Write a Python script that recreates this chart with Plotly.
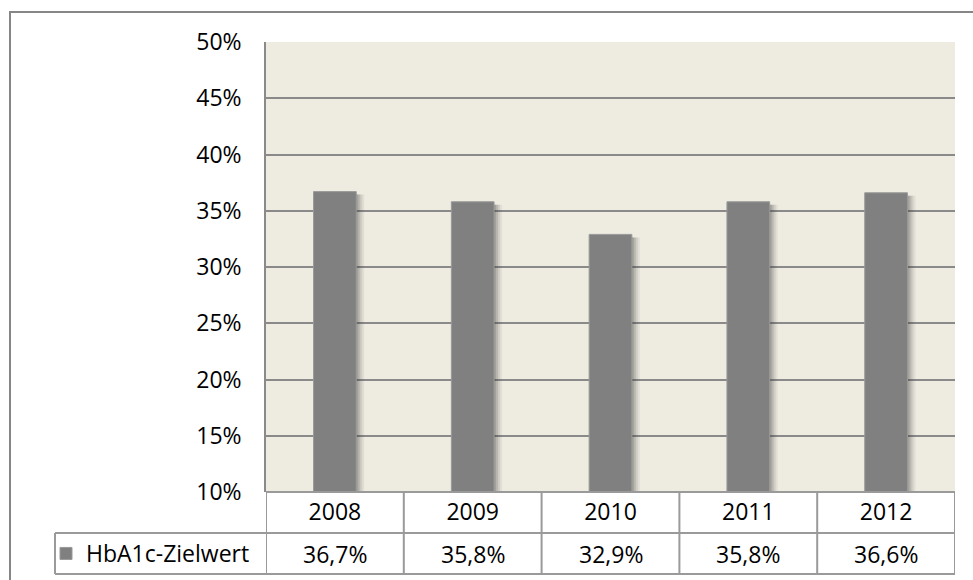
import plotly.graph_objects as go

years = ["2008", "2009", "2010", "2011", "2012"]
values = [36.7, 35.8, 32.9, 35.8, 36.6]
series_name = "HbA1c-Zielwert"
y_tick_vals = [10, 15, 20, 25, 30, 35, 40, 45, 50]
y_tick_text = ["10%", "15%", "20%", "25%", "30%", "35%", "40%", "45%", "50%"]

W, H = 973, 580
L, R, T, B = 266, 18, 42, 88
pw, ph = W - L - R, H - T - B
FONT = "Open Sans"
FS = 23
GRID = "#8a8a8a"
TBL = "#9a9a9a"

def px_x(p):  # pixel -> paper x
    return (p - L) / pw

def px_y(p):  # pixel -> paper y
    return (H - B - p) / ph

bar_w = 0.31
fig = go.Figure()

# soft shadow layers (on the base axis, shifted a few pixels down)
for dx, op in [(8, 0.07), (6, 0.11), (4, 0.15), (2, 0.18)]:
    fig.add_trace(go.Bar(
        x=years, y=values, width=bar_w, offset=-bar_w / 2 + dx / (pw / 5),
        marker=dict(color=f"rgba(60,60,60,{op})", line=dict(width=0)),
        yaxis="y", showlegend=False, hoverinfo="skip"))

fig.add_trace(go.Bar(
    x=years, y=values, name=series_name, width=bar_w, offset=-bar_w / 2,
    marker=dict(color="#808080", line=dict(color="#9a9a9a", width=1)),
    yaxis="y2"))

shift = 3 * 40 / ph
shapes = []
shapes.append(dict(type="rect", xref="paper", yref="paper",
                   x0=px_x(10), x1=px_x(1010), y0=px_y(12), y1=px_y(620),
                   line=dict(color="#868686", width=2), fillcolor="rgba(0,0,0,0)", layer="below"))
row1 = px_y(533)
row2 = px_y(574)
shapes.append(dict(type="line", xref="x", yref="paper", x0=-0.5, x1=4.5, y0=0, y1=0,
                   line=dict(color=TBL, width=2)))
for yy in (row1, row2):
    shapes.append(dict(type="line", xref="paper", yref="paper", x0=px_x(55), x1=1, y0=yy, y1=yy,
                       line=dict(color=TBL, width=2)))
shapes.append(dict(type="line", xref="paper", yref="paper", x0=px_x(55), x1=px_x(55), y0=row1, y1=row2,
                   line=dict(color=TBL, width=2)))
for k in range(len(years) + 1):
    shapes.append(dict(type="line", xref="x", yref="paper", x0=k - 0.5, x1=k - 0.5, y0=0, y1=row2,
                       line=dict(color=TBL, width=2)))

annotations = []
for i, v in enumerate(values):
    annotations.append(dict(x=i, xref="x", y=(row1 + row2) / 2, yref="paper",
                            text=f"{v:.1f}%".replace(".", ","), showarrow=False,
                            font=dict(family=FONT, size=FS, color="#000000"),
                            xanchor="center", yanchor="middle"))

fig.update_layout(
    width=W, height=H,
    margin=dict(l=L, r=R, t=T, b=B, autoexpand=False),
    paper_bgcolor="#ffffff", plot_bgcolor="#eeece1",
    barmode="overlay",
    font=dict(family=FONT, size=FS, color="#000000"),
    xaxis=dict(type="category", range=[-0.5, 4.5], showgrid=False, ticks="",
               showline=False, zeroline=False, ticklabelstandoff=4,
               tickfont=dict(family=FONT, size=FS, color="#000000")),
    yaxis=dict(range=[10 + shift, 50 + shift], visible=False, showgrid=False, zeroline=False),
    yaxis2=dict(range=[10, 50], overlaying="y", side="left", anchor="x",
                tickmode="array", tickvals=y_tick_vals, ticktext=y_tick_text,
                showgrid=True, gridcolor=GRID, gridwidth=1.5, zeroline=False, ticks="",
                showline=True, linecolor=GRID, linewidth=1.5, ticklabelstandoff=18,
                tickfont=dict(family=FONT, size=FS, color="#000000")),
    legend=dict(x=px_x(46), y=(row1 + row2) / 2, xanchor="left", yanchor="middle",
                bgcolor="rgba(0,0,0,0)", font=dict(family=FONT, size=FS, color="#000000"),
                itemwidth=30),
    showlegend=True,
    shapes=shapes, annotations=annotations,
)

fig.write_html("out.html", config={"displayModeBar": False},
               post_script="document.body.style.margin='0';")
